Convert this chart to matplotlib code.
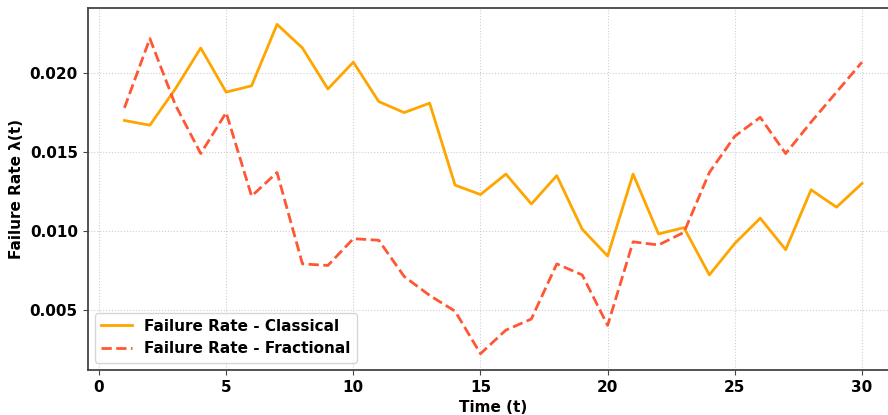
import numpy as np
import matplotlib.pyplot as plt

# data
t = np.arange(1, 31)
classical = [0.0170, 0.0167, 0.0190, 0.0216, 0.0188, 0.0192, 0.0231, 0.0216, 0.0190, 0.0207,
             0.0182, 0.0175, 0.0181, 0.0129, 0.0123, 0.0136, 0.0117, 0.0135, 0.0101, 0.0084,
             0.0136, 0.0098, 0.0102, 0.0072, 0.0092, 0.0108, 0.0088, 0.0126, 0.0115, 0.0130]
fractional = [0.0178, 0.0222, 0.0180, 0.0149, 0.0175, 0.0122, 0.0137, 0.0079, 0.0078, 0.0095,
              0.0094, 0.0071, 0.0059, 0.0049, 0.0022, 0.0037, 0.0044, 0.0079, 0.0072, 0.0040,
              0.0093, 0.0091, 0.0099, 0.0137, 0.0160, 0.0172, 0.0149, 0.0169, 0.0188, 0.0207]

fig = plt.figure(figsize=(8.88, 4.15), dpi=100)
# the reference is cropped on the right, so the axes run past the figure edge
ax = fig.add_axes([0.0986, 0.108, 0.9136, 0.873])

ax.plot(t, classical, color='orange', lw=2, label='Failure Rate - Classical')
ax.plot(t, fractional, color='#FF5733', lw=2, ls='--', label='Failure Rate - Fractional')

ax.set_xlabel('Time (t)', fontsize=11, fontweight='bold')
ax.set_ylabel('Failure Rate λ(t)', fontsize=11, fontweight='bold')
ax.set_yticks([0.005, 0.010, 0.015, 0.020])
ax.set_yticklabels(['0.005', '0.010', '0.015', '0.020'])
for lab in ax.get_xticklabels() + ax.get_yticklabels():
    lab.set_fontweight('bold')
    lab.set_fontsize(11)
ax.grid(True, ls=':', alpha=0.6)
for s in ax.spines.values():
    s.set_linewidth(1.3)
    s.set_color('#444444')
ax.tick_params(color='#444444')
ax.legend(loc='lower left', prop={'weight': 'bold', 'size': 11})

fig.savefig('out.png', dpi=100)
